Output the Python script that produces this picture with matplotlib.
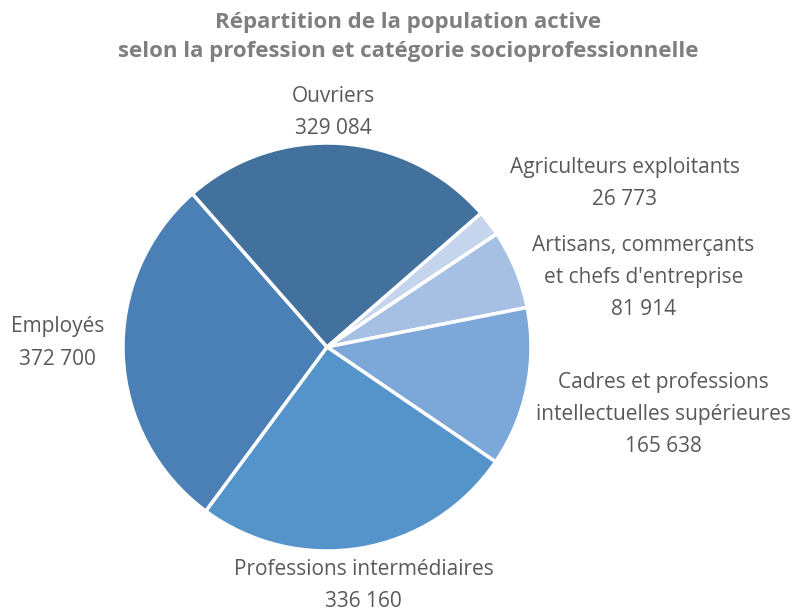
import matplotlib.pyplot as plt

# data
categories = ["Agriculteurs exploitants",
              "Artisans, commerçants\net chefs d'entreprise",
              "Cadres et professions\nintellectuelles supérieures",
              "Professions intermédiaires",
              "Employés",
              "Ouvriers"]
values = [26773, 81914, 165638, 336160, 372700, 329084]
colors = ["#c5d5ed", "#a5c0e3", "#7ba7d9", "#5593cb", "#4a80b5", "#41719c"]

# label positions in pie units (radius = 1)
label_pos = [(1.46, 0.80), (1.55, 0.34), (1.65, -0.33),
             (0.18, -1.17), (-1.32, 0.02), (0.03, 1.15)]

plt.rcParams['font.family'] = ['Open Sans', 'DejaVu Sans']

W, H = 795, 612
cx, cy, r = 327, 347, 204

fig = plt.figure(figsize=(W / 100, H / 100), dpi=100)
ax = fig.add_axes([(cx - r) / W, (H - cy - r) / H, 2 * r / W, 2 * r / H])

ax.pie(values, colors=colors, startangle=41, counterclock=False,
       wedgeprops=dict(edgecolor="white", linewidth=2.5))
ax.set_xlim(-1, 1)
ax.set_ylim(-1, 1)
ax.set_aspect("equal")
ax.axis("off")


def fmt(v):
    return f"{v:,}".replace(",", " ")


for name, v, (x, y) in zip(categories, values, label_pos):
    ax.text(x, y, name + "\n" + fmt(v), ha="center", va="center",
            fontsize=15, color="#595959", linespacing=1.7, clip_on=False)

fig.text(0.513, 0.9395, "Répartition de la population active\nselon la profession et catégorie socioprofessionnelle",
         ha="center", va="center", fontsize=16, fontweight="bold",
         color="#7f7f7f", linespacing=1.55)

fig.savefig("out.png", dpi=100)
